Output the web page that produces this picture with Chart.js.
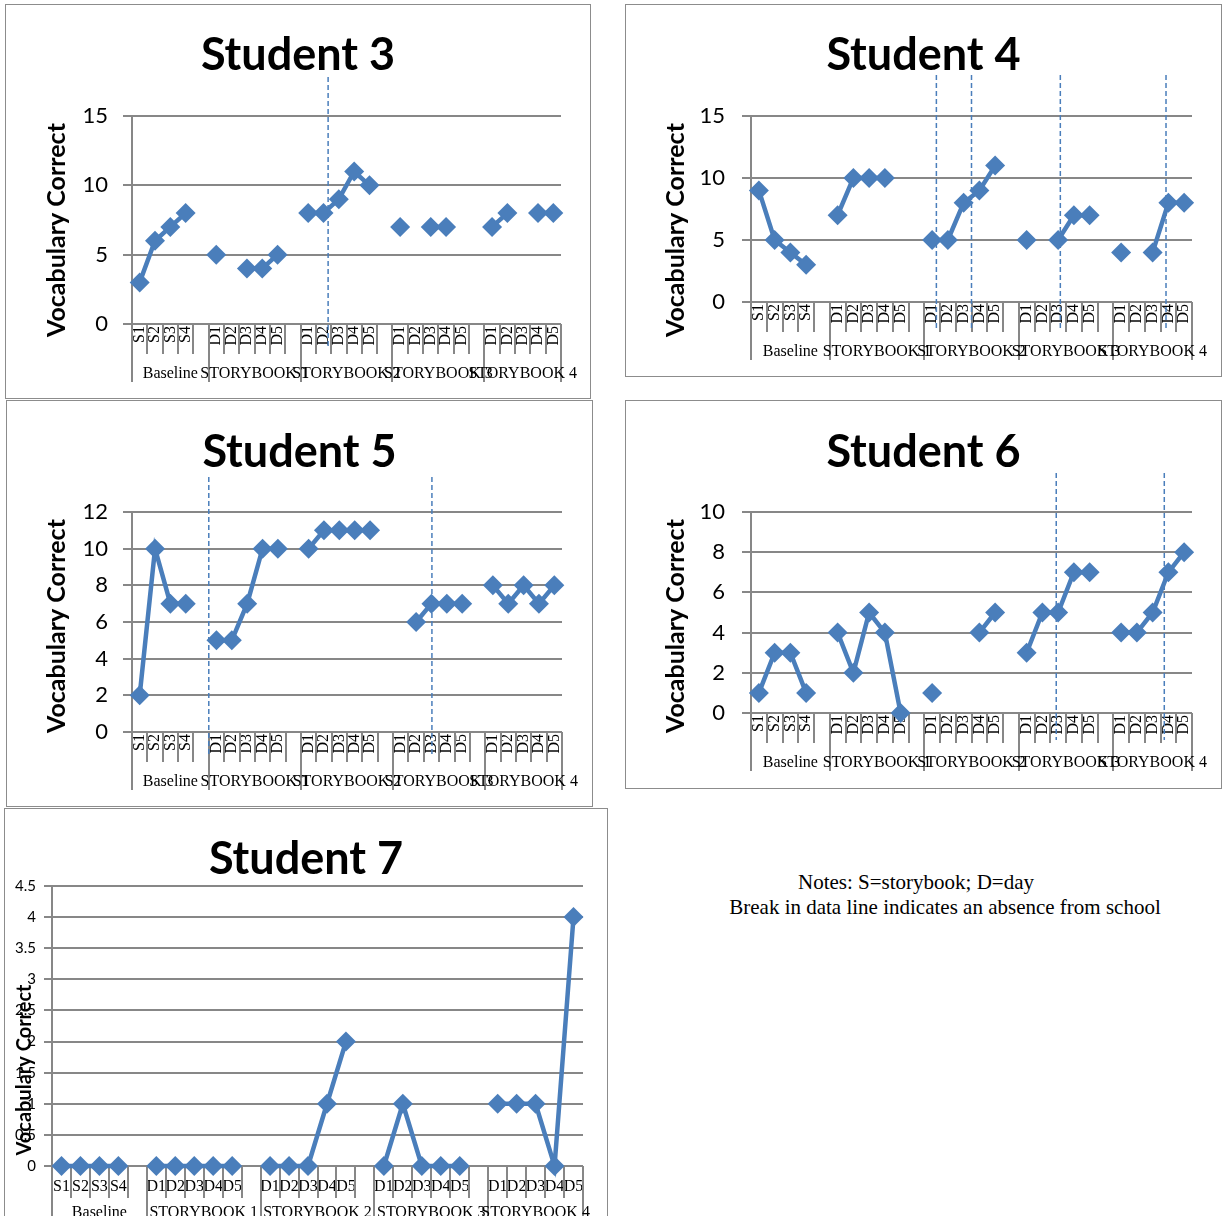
<!DOCTYPE html>
<html>
<head>
<meta charset="utf-8">
<script src="https://cdn.jsdelivr.net/npm/chart.js@4"></script>
<style>
  html, body { margin: 0; padding: 0; background: #fff; width: 1224px; height: 1216px; overflow: hidden; }
  .panel { position: absolute; box-sizing: border-box; border: 1px solid #8c8c8c; background: #fff; overflow: hidden; }
  .panel canvas { position: absolute; left: 0; top: 0; }
  .note { position: absolute; white-space: nowrap; transform: translate(-50%, -50%);
          font-family: "Liberation Serif", "Times New Roman", serif; font-size: 21px; color: #000; }
</style>
</head>
<body>
<div class="note" style="left:916px; top:882px;">Notes: S=storybook; D=day</div>
<div class="note" style="left:945px; top:907px;">Break in data line indicates an absence from school</div>
<script>
// Session labels (lower axis level) and phase groups (upper axis level)
const slotLabels = [
  'S1','S2','S3','S4','',
  'D1','D2','D3','D4','D5','',
  'D1','D2','D3','D4','D5','',
  'D1','D2','D3','D4','D5','',
  'D1','D2','D3','D4','D5'
];
const groupNames = ['Baseline', 'STORYBOOK 1', 'STORYBOOK 2', 'STORYBOOK 3', 'STORYBOOK 4'];
const groupSlots = [5, 6, 6, 6, 5];

// Vocabulary correct per session (null = absent / no session)
const student3 = [3, 6, 7, 8, null,  5, null, 4, 4, 5, null,  8, 8, 9, 11, 10, null,  7, null, 7, 7, null, null,  7, 8, null, 8, 8];
const student4 = [9, 5, 4, 3, null,  7, 10, 10, 10, null, null,  5, 5, 8, 9, 11, null,  5, null, 5, 7, 7, null,  4, null, 4, 8, 8];
const student5 = [2, 10, 7, 7, null,  5, 5, 7, 10, 10, null,  10, 11, 11, 11, 11, null,  null, 6, 7, 7, 7, null,  8, 7, 8, 7, 8];
const student6 = [1, 3, 3, 1, null,  4, 2, 5, 4, 0, null,  1, null, null, 4, 5, null,  3, 5, 5, 7, 7, null,  4, 4, 5, 7, 8];
const student7 = [0, 0, 0, 0, null,  0, 0, 0, 0, 0, null,  0, 0, 0, 1, 2, null,  0, 1, 0, 0, 0, null,  1, 1, 1, 0, 4];

// Phase-change markers, in session-index units
const student3Phases = [12.3];
const student4Phases = [11.27, 13.5, 19.14, 25.85];
const student5Phases = [4.5, 19.03];
const student6Phases = [18.88, 25.74];

const AXIS_GRAY = '#878787';
const SERIES_BLUE = '#4a7ebb';
const SANS = 'Lato, "Open Sans", sans-serif';
const SERIF = '"Liberation Serif", "Times New Roman", serif';

// Draws the two-level category axis, phase lines and titles
const panelDecor = {
  id: 'panelDecor',
  beforeDatasetsDraw(chart, args, o) {
    const { ctx, chartArea: a } = chart;
    const x = chart.scales.x;
    const bounds = new Set([0]);
    let acc = 0;
    groupSlots.forEach(n => { acc += n; bounds.add(acc); });
    ctx.save();
    ctx.strokeStyle = AXIS_GRAY;
    ctx.lineWidth = 2;
    for (let i = 0; i <= slotLabels.length; i++) {
      const px = Math.round(x.getPixelForValue(i - 0.5));
      const len = bounds.has(i) ? o.tallLen : o.shortLen;
      ctx.beginPath();
      ctx.moveTo(px, a.bottom);
      ctx.lineTo(px, a.bottom + len);
      ctx.stroke();
    }
    ctx.fillStyle = '#000';
    ctx.font = '16px ' + SERIF;
    ctx.textAlign = 'center';
    ctx.textBaseline = 'middle';
    let start = 0;
    groupNames.forEach((name, k) => {
      const end = start + groupSlots[k];
      const cx = (x.getPixelForValue(start - 0.5) + x.getPixelForValue(end - 0.5)) / 2;
      ctx.fillText(name, cx, a.bottom + o.groupLabelY);
      start = end;
    });
    ctx.restore();
  },
  afterDatasetsDraw(chart, args, o) {
    if (!o.phases || !o.phases.length) return;
    const { ctx } = chart;
    const x = chart.scales.x;
    ctx.save();
    ctx.strokeStyle = SERIES_BLUE;
    ctx.lineWidth = 1.5;
    ctx.setLineDash([5, 3]);
    o.phases.forEach(v => {
      const px = x.getPixelForValue(v);
      ctx.beginPath();
      ctx.moveTo(px, o.dashTop);
      ctx.lineTo(px, o.dashBottom);
      ctx.stroke();
    });
    ctx.restore();
  },
  afterDraw(chart, args, o) {
    const { ctx } = chart;
    ctx.save();
    ctx.fillStyle = '#000';
    ctx.font = 'bold ' + o.titleSize + 'px ' + SANS;
    ctx.textAlign = 'center';
    ctx.textBaseline = 'alphabetic';
    ctx.fillText(o.title, chart.width / 2, o.titleBaseline);
    ctx.font = 'bold ' + o.axisTitleSize + 'px ' + SANS;
    ctx.translate(o.axisTitleX, o.axisTitleY);
    ctx.rotate(-Math.PI / 2);
    ctx.textBaseline = 'middle';
    ctx.fillText('Vocabulary Correct', 0, 0);
    ctx.restore();
  }
};

function buildPanel(p) {
  const host = document.createElement('div');
  host.className = 'panel';
  Object.assign(host.style, {
    left: p.box.x + 'px', top: p.box.y + 'px', width: p.box.w + 'px', height: p.box.h + 'px'
  });
  document.body.appendChild(host);
  const canvas = document.createElement('canvas');
  const cw = p.box.w - 2, ch = p.box.h - 2;
  canvas.width = cw; canvas.height = ch;
  canvas.style.width = cw + 'px'; canvas.style.height = ch + 'px';
  host.appendChild(canvas);

  const ox = p.box.x + 1, oy = p.box.y + 1;
  const yAxisWidth = p.plot.l - ox;
  const xAxisHeight = ch - (p.plot.b - oy);

  new Chart(canvas, {
    type: 'line',
    data: {
      labels: slotLabels,
      datasets: [{
        data: p.values,
        borderColor: SERIES_BLUE,
        backgroundColor: SERIES_BLUE,
        borderWidth: 4.5,
        pointStyle: 'rectRot',
        pointRadius: 10,
        pointBorderWidth: 0,
        pointBackgroundColor: SERIES_BLUE,
        spanGaps: false,
        tension: 0,
        clip: false
      }]
    },
    options: {
      responsive: false,
      animation: false,
      devicePixelRatio: 1,
      events: [],
      layout: { padding: { left: 0, top: p.plot.t - oy, right: (ox + cw) - p.plot.r, bottom: 0 } },
      plugins: {
        legend: { display: false },
        tooltip: { enabled: false },
        title: { display: false },
        panelDecor: {
          title: p.title,
          titleSize: p.titleSize,
          titleBaseline: p.titleBaseline - oy,
          axisTitleSize: p.axisTitleSize,
          axisTitleX: p.axisTitle.x - ox,
          axisTitleY: p.axisTitle.y - oy,
          shortLen: p.shortLen,
          tallLen: p.tallLen,
          groupLabelY: p.groupLabelY,
          phases: p.phases,
          dashTop: p.dash ? p.dash[0] - oy : 0,
          dashBottom: p.dash ? p.dash[1] - oy : 0
        }
      },
      scales: {
        x: {
          type: 'category',
          offset: true,
          grid: { display: false, drawTicks: false },
          border: { display: false },
          ticks: {
            autoSkip: false,
            maxRotation: p.rotation,
            minRotation: p.rotation,
            padding: p.xPad,
            color: '#000',
            font: { family: SERIF, size: 16 }
          },
          afterFit: s => { s.height = xAxisHeight; }
        },
        y: {
          min: 0,
          max: p.yMax,
          ticks: {
            stepSize: p.yStep,
            padding: p.yPad,
            color: '#000',
            font: { family: SANS, size: p.yFont },
            callback: v => String(v)
          },
          grid: { color: AXIS_GRAY, lineWidth: 2, tickLength: p.tickLen, drawTicks: true },
          border: { display: true, color: AXIS_GRAY, width: 2 },
          afterFit: s => { s.width = yAxisWidth; }
        }
      }
    },
    plugins: [panelDecor]
  });
}

const common = { titleSize: 45, axisTitleSize: 25, yFont: 22, tickLen: 9, rotation: 90, xPad: 2,
                 shortLen: 30, tallLen: 58, groupLabelY: 50 };

buildPanel(Object.assign({}, common, {
  title: 'Student 3', values: student3, phases: student3Phases,
  box: { x: 5, y: 4, w: 586, h: 395 }, plot: { l: 132, t: 116, r: 561, b: 324 },
  titleBaseline: 70, axisTitle: { x: 57, y: 230 }, yMax: 15, yStep: 5, yPad: 15, dash: [77, 348]
}));
buildPanel(Object.assign({}, common, {
  title: 'Student 4', values: student4, phases: student4Phases,
  box: { x: 625, y: 4, w: 597, h: 373 }, plot: { l: 751, t: 116, r: 1192, b: 302 },
  titleBaseline: 70, axisTitle: { x: 676, y: 230 }, yMax: 15, yStep: 5, yPad: 17, dash: [75, 328]
}));
buildPanel(Object.assign({}, common, {
  title: 'Student 5', values: student5, phases: student5Phases,
  box: { x: 6, y: 400, w: 587, h: 407 }, plot: { l: 132, t: 512, r: 562, b: 732 },
  titleBaseline: 467, axisTitle: { x: 57, y: 626 }, yMax: 12, yStep: 2, yPad: 15, dash: [477, 755]
}));
buildPanel(Object.assign({}, common, {
  title: 'Student 6', values: student6, phases: student6Phases,
  box: { x: 625, y: 400, w: 597, h: 389 }, plot: { l: 751, t: 512, r: 1192, b: 713 },
  titleBaseline: 467, axisTitle: { x: 676, y: 626 }, yMax: 10, yStep: 2, yPad: 17, dash: [473, 740]
}));
buildPanel(Object.assign({}, common, {
  title: 'Student 7', values: student7, phases: [],
  box: { x: 4, y: 808, w: 604, h: 460 }, plot: { l: 52, t: 886, r: 583, b: 1166 },
  titleBaseline: 874, axisTitle: { x: 25, y: 1070 }, axisTitleSize: 20, yMax: 4.5, yStep: 0.5,
  yFont: 15, yPad: 8, tickLen: 8, rotation: 0, xPad: 11, shortLen: 32, tallLen: 90, groupLabelY: 47
}));
</script>
</body>
</html>
